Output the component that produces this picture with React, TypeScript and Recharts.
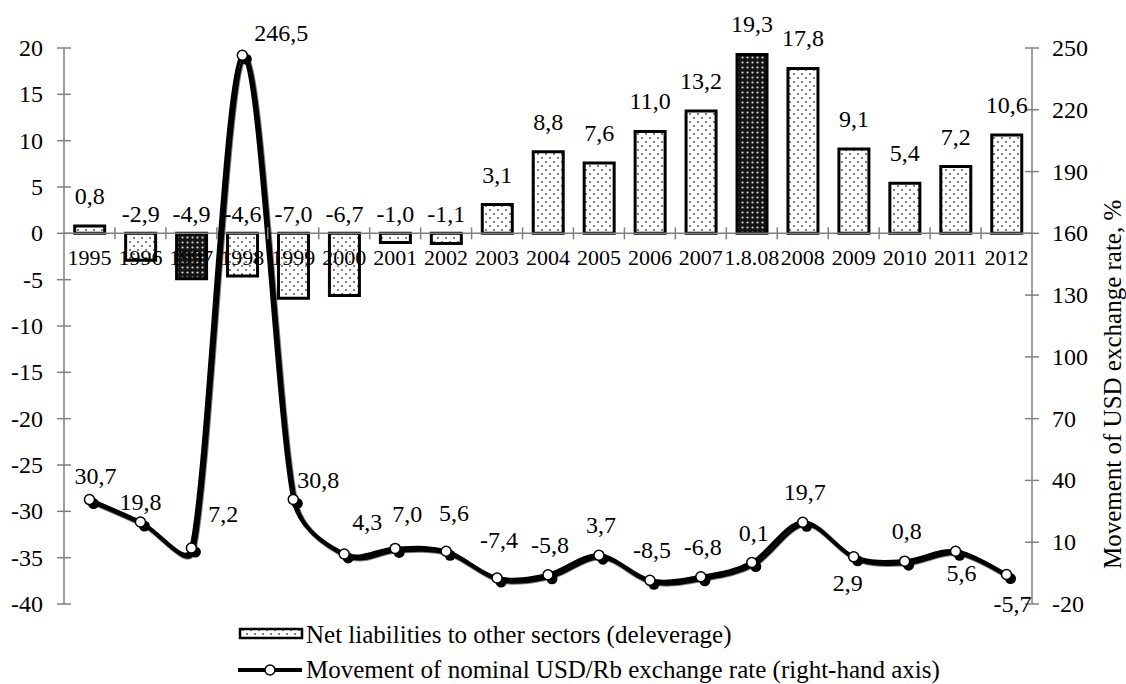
import React from 'react';
import {
  ComposedChart,
  Bar,
  Line,
  XAxis,
  YAxis,
  ReferenceLine,
  LabelList,
  Cell,
  Legend,
} from 'recharts';

// ---- data ----
const categories = [
  '1995', '1996', '1997', '1998', '1999', '2000', '2001', '2002', '2003', '2004',
  '2005', '2006', '2007', '1.8.08', '2008', '2009', '2010', '2011', '2012',
];
const netLiabilities = [
  0.8, -2.9, -4.9, -4.6, -7.0, -6.7, -1.0, -1.1, 3.1, 8.8,
  7.6, 11.0, 13.2, 19.3, 17.8, 9.1, 5.4, 7.2, 10.6,
];
const usdRbMovement = [
  30.7, 19.8, 7.2, 246.5, 30.8, 4.3, 7.0, 5.6, -7.4, -5.8,
  3.7, -8.5, -6.8, 0.1, 19.7, 2.9, 0.8, 5.6, -5.7,
];
const crisisPeriods = ['1997', '1.8.08'];
const leftTicks = [-40, -35, -30, -25, -20, -15, -10, -5, 0, 5, 10, 15, 20];
const rightTicks = [-20, 10, 40, 70, 100, 130, 160, 190, 220, 250];

const rows = categories.map((cat, i) => ({
  cat,
  net: netLiabilities[i],
  usd: usdRbMovement[i],
}));

// ---- layout ----
const W = 1126;
const H = 684;
const TOP = 48;
const BOTTOM = 50;
const X_AXIS_H = 30;
const LEFT_W = 64;
const RIGHT_W = 94;
const PLOT_H = H - TOP - BOTTOM - X_AXIS_H;
const PLOT_W = W - LEFT_W - RIGHT_W;
const BAND = PLOT_W / categories.length;
const LEFT_MIN = leftTicks[0];
const LEFT_MAX = leftTicks[leftTicks.length - 1];
const ZERO_Y = TOP + (PLOT_H * LEFT_MAX) / (LEFT_MAX - LEFT_MIN);

const FONT = "'Liberation Serif', 'Times New Roman', serif";
const GREY = '#808080';

const fmt = (v: number) => v.toFixed(1).replace('.', ',');

// where each exchange-rate label sits relative to its marker
const lineLabelNudge: Record<string, [number, number]> = {
  '1995': [6, -24],
  '1996': [0, -20],
  '1997': [32, -34],
  '1998': [39, -22],
  '1999': [25, -19],
  '2000': [23, -32],
  '2001': [12, -34],
  '2002': [8, -38],
  '2003': [2, -38],
  '2009': [-6, 26],
  '2011': [6, 22],
  '2012': [6, 29],
};
const DEFAULT_NUDGE: [number, number] = [2, -30];

// Smoothed Bezier line whose control arms are limited by segment length
const ARM_LIMIT = 0.4;
function smoothCurve(context: any) {
  let pts: number[][] = [];
  return {
    areaStart() {},
    areaEnd() {},
    lineStart() {
      pts = [];
    },
    point(x: number, y: number) {
      pts.push([+x, +y]);
    },
    lineEnd() {
      const n = pts.length;
      if (n === 0) return;
      context.moveTo(pts[0][0], pts[0][1]);
      if (n === 1) return;
      const arm = (i: number, dir: number) => {
        const prev = pts[Math.max(0, i - 1)];
        const next = pts[Math.min(n - 1, i + 1)];
        let tx = (next[0] - prev[0]) / 6;
        let ty = (next[1] - prev[1]) / 6;
        const nb = pts[i + dir];
        const seg = Math.hypot(nb[0] - pts[i][0], nb[1] - pts[i][1]);
        const len = Math.hypot(tx, ty);
        const max = ARM_LIMIT * seg;
        if (len > max && len > 0) {
          tx *= max / len;
          ty *= max / len;
        }
        return [tx, ty];
      };
      for (let i = 0; i < n - 1; i++) {
        const a = arm(i, 1);
        const b = arm(i + 1, -1);
        context.bezierCurveTo(
          pts[i][0] + a[0], pts[i][1] + a[1],
          pts[i + 1][0] - b[0], pts[i + 1][1] - b[1],
          pts[i + 1][0], pts[i + 1][1],
        );
      }
    },
  };
}

const txt = (size: number) => ({ fontFamily: FONT, fontSize: size, fill: '#000' });
const TICK_FS = 24;
const CAT_FS = 22;
const VALUE_FS = 24;
const LEGEND_FS = 25;

const CategoryTick = (props: any) => {
  const { x, payload, index } = props;
  return (
    <g>
      {index > 0 && (
        <line x1={x - BAND / 2} x2={x - BAND / 2} y1={ZERO_Y - 6} y2={ZERO_Y + 6} stroke={GREY} strokeWidth={1.5} />
      )}
      <text x={x} y={ZERO_Y + 32} textAnchor="middle" style={txt(CAT_FS)}>
        {payload.value}
      </text>
    </g>
  );
};

const LeftTick = (props: any) => {
  const { x, y, payload } = props;
  return (
    <g>
      <line x1={x + 13} x2={x + 27} y1={y} y2={y} stroke={GREY} strokeWidth={1.5} />
      <text x={x - 1} y={y + 8} textAnchor="end" style={txt(TICK_FS)}>
        {payload.value}
      </text>
    </g>
  );
};

const RightTick = (props: any) => {
  const { x, y, payload } = props;
  return (
    <g>
      <line x1={x - 27} x2={x - 13} y1={y} y2={y} stroke={GREY} strokeWidth={1.5} />
      <text x={x} y={y + 8} textAnchor="start" style={txt(TICK_FS)}>
        {payload.value}
      </text>
    </g>
  );
};

const BarValueLabel = (props: any) => {
  const vb = props.viewBox || props;
  const x = vb.x ?? props.x;
  const y = vb.y ?? props.y;
  const w = vb.width ?? props.width;
  const h = vb.height ?? props.height;
  const value = Number(props.value);
  const top = Math.min(y, y + h);
  const cy = value >= 0 ? top - 30 : ZERO_Y - 19;
  return (
    <text x={x + w / 2} y={cy + 8} textAnchor="middle" style={txt(VALUE_FS)}>
      {fmt(value)}
    </text>
  );
};

const LineValueLabel = (props: any) => {
  const vb = props.viewBox || {};
  const x = props.x ?? vb.x;
  const y = props.y ?? vb.y;
  const cat = categories[props.index];
  const [dx, dy] = lineLabelNudge[cat] || DEFAULT_NUDGE;
  return (
    <text x={x + dx} y={y + dy + 8} textAnchor="middle" style={txt(VALUE_FS)}>
      {fmt(Number(props.value))}
    </text>
  );
};

const renderDot = (p: any) => (
  <g key={`dot-${p.index}`}>
    <circle cx={p.cx + 4} cy={p.cy + 4} r={5.5} fill="#000" />
    <circle cx={p.cx} cy={p.cy} r={5} fill="#fff" stroke="#000" strokeWidth={1.5} />
  </g>
);

const RightTitle = () => (
  <text
    transform={`translate(${W - 5}, ${TOP + PLOT_H * 0.605}) rotate(-90)`}
    textAnchor="middle"
    style={txt(LEGEND_FS)}
  >
    Movement of USD exchange rate, %
  </text>
);

const LegendBlock = () => (
  <svg width={800} height={64} style={{ display: 'block', overflow: 'visible' }}>
    <defs>
      <pattern id="legendDots" width="8" height="8" patternUnits="userSpaceOnUse">
        <rect width="8" height="8" fill="#fff" />
        <circle cx="2" cy="2" r="0.9" fill="#444" />
        <circle cx="6" cy="6" r="0.9" fill="#444" />
      </pattern>
    </defs>
    <rect x={15} y={9} width={62} height={9} fill="url(#legendDots)" stroke="#000" strokeWidth={2.5} />
    <text x={81} y={22.5} style={txt(LEGEND_FS)}>
      Net liabilities to other sectors (deleverage)
    </text>
    <line x1={13} x2={77} y1={50} y2={50} stroke="#000" strokeWidth={4} />
    <circle cx={45} cy={50} r={5} fill="#fff" stroke="#000" strokeWidth={1.5} />
    <text x={81} y={57.5} style={txt(LEGEND_FS)}>
      Movement of nominal USD/Rb exchange rate (right-hand axis)
    </text>
  </svg>
);

export default function App() {
  return (
    <div style={{ position: 'absolute', left: 0, top: 0, background: '#fff' }}>
      <ComposedChart
        width={W}
        height={H}
        data={rows}
        margin={{ top: TOP, right: 0, bottom: BOTTOM, left: 0 }}
        barCategoryGap="21%"
      >
        <defs>
          <pattern id="lightDots" width="8" height="8" patternUnits="userSpaceOnUse">
            <rect width="8" height="8" fill="#fff" />
            <circle cx="2" cy="2" r="0.9" fill="#444" />
            <circle cx="6" cy="6" r="0.9" fill="#444" />
          </pattern>
          <pattern id="darkDots" width="5" height="5" patternUnits="userSpaceOnUse">
            <rect width="5" height="5" fill="#151515" />
            <circle cx="2.5" cy="2.5" r="1.1" fill="#d8d8d8" />
          </pattern>
          <filter id="lineShadow" x="-5%" y="-5%" width="110%" height="110%">
            <feDropShadow dx="2.5" dy="2.5" stdDeviation="0" floodColor="#000" />
          </filter>
        </defs>
        <YAxis
          yAxisId="left"
          domain={[LEFT_MIN, LEFT_MAX]}
          ticks={leftTicks}
          interval={0}
          width={LEFT_W}
          axisLine={{ stroke: GREY, strokeWidth: 1.5 }}
          tickLine={false}
          tickSize={7}
          tickMargin={13}
          tick={LeftTick}
        />
        <YAxis
          yAxisId="right"
          orientation="right"
          domain={[rightTicks[0], rightTicks[rightTicks.length - 1]]}
          ticks={rightTicks}
          interval={0}
          width={RIGHT_W}
          axisLine={{ stroke: GREY, strokeWidth: 1.5 }}
          tickLine={false}
          tickSize={7}
          tickMargin={13}
          tick={RightTick}
          label={{ content: RightTitle }}
        />
        <ReferenceLine yAxisId="left" y={0} stroke={GREY} strokeWidth={1.5} />
        <Bar yAxisId="left" dataKey="net" stroke="#000" strokeWidth={3} isAnimationActive={false}>
          {rows.map((r) => (
            <Cell key={r.cat} fill={crisisPeriods.includes(r.cat) ? 'url(#darkDots)' : 'url(#lightDots)'} />
          ))}
          <LabelList dataKey="net" content={BarValueLabel} />
        </Bar>
        <XAxis
          dataKey="cat"
          height={X_AXIS_H}
          axisLine={false}
          tickLine={false}
          interval={0}
          tick={CategoryTick}
        />
        <Line
          yAxisId="right"
          dataKey="usd"
          type={smoothCurve as any}
          stroke="#000"
          strokeWidth={4}
          filter="url(#lineShadow)"
          dot={renderDot}
          activeDot={false}
          isAnimationActive={false}
        >
          <LabelList dataKey="usd" content={LineValueLabel} />
        </Line>
        <Legend
          layout="horizontal"
          verticalAlign="middle"
          align="center"
          content={LegendBlock}
          wrapperStyle={{ left: 225, top: 620, width: 800, height: 64 }}
        />
      </ComposedChart>
    </div>
  );
}
